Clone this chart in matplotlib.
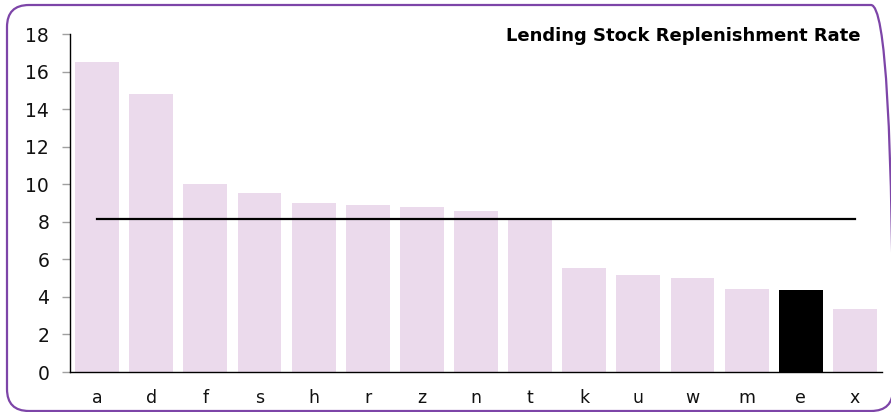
#!/usr/bin/env python3
"""Lending stock replenishment rate by lender, with the group average."""

import matplotlib
matplotlib.use("Agg")
import matplotlib.pyplot as plt
from matplotlib.patches import FancyBboxPatch
from matplotlib.transforms import IdentityTransform
import numpy as np

# ---------------------------------------------------------------------------
# Data
# ---------------------------------------------------------------------------

LENDERS = ["a", "d", "f", "s", "h", "r", "z", "n", "t", "k", "u", "w", "m", "e", "x"]
RATES = [16.5, 14.8, 10.0, 9.53, 9.0, 8.9, 8.8, 8.6, 8.1, 5.54, 5.18, 4.99, 4.42, 4.37, 3.34]
HIGHLIGHT = "e"

TITLE = "Lending Stock Replenishment Rate"
Y_TICKS = [0, 2, 4, 6, 8, 10, 12, 14, 16, 18]

BAR_COLOR = "#ebdaec"
HIGHLIGHT_COLOR = "black"
FRAME_COLOR = "#7d45a8"

W_PX, H_PX = 891, 412


def main():
    fig = plt.figure(figsize=(W_PX / 100, H_PX / 100), dpi=100)
    ax = fig.add_axes([70 / W_PX, 1 - 372 / H_PX, 812 / W_PX, 338 / H_PX])

    x = np.arange(len(LENDERS))
    colors = [HIGHLIGHT_COLOR if c == HIGHLIGHT else BAR_COLOR for c in LENDERS]
    ax.bar(x, RATES, width=0.81, color=colors, zorder=2)

    # group average across all lenders
    avg = np.mean(RATES)
    ax.plot([x[0], x[-1]], [avg, avg], color="black", linewidth=1.6, zorder=3)

    ax.set_xlim(-0.5, len(LENDERS) - 0.5)
    ax.set_ylim(0, 18)
    ax.set_xticks(x)
    ax.set_xticklabels(LENDERS)
    ax.set_yticks(Y_TICKS)

    for side in ("top", "right"):
        ax.spines[side].set_visible(False)
    for side in ("left", "bottom"):
        ax.spines[side].set_color("black")
        ax.spines[side].set_linewidth(1.0)

    ax.tick_params(axis="y", direction="out", length=6, width=1.0, color="#a0a0a0",
                   pad=9, labelsize=13.5, labelcolor="#111111")
    ax.tick_params(axis="x", length=0, pad=12, labelsize=12.5, labelcolor="#111111")

    fig.text(860 / W_PX, 1 - 41 / H_PX, TITLE, ha="right", va="baseline",
             fontsize=13, fontweight="bold", color="black")

    # rounded border around the whole chart, in pixel units
    frame = FancyBboxPatch((7, 1), 886, 406,
                           boxstyle="round,pad=0,rounding_size=22",
                           transform=IdentityTransform(), fill=False,
                           edgecolor=FRAME_COLOR, linewidth=1.6, clip_on=False)
    fig.patches.append(frame)

    fig.savefig("out.png", dpi=100)
    plt.close(fig)


if __name__ == "__main__":
    main()
